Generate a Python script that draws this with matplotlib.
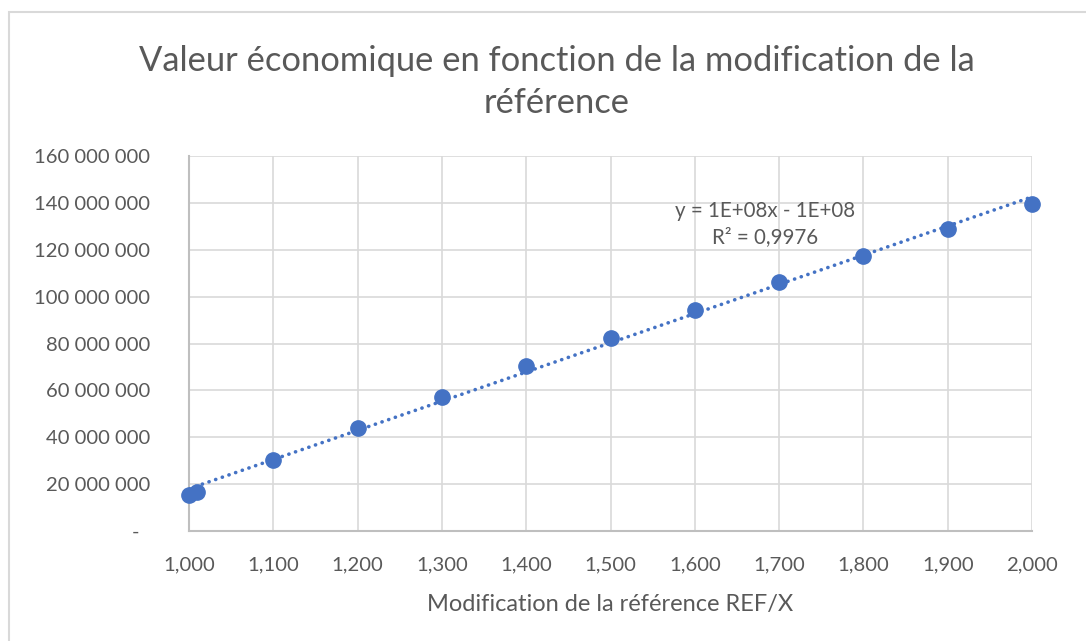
import numpy as np
import matplotlib.pyplot as plt
from matplotlib.ticker import FuncFormatter, MultipleLocator
from matplotlib.patches import Rectangle

# data
ref_x = [1.000, 1.010, 1.100, 1.200, 1.300, 1.400, 1.500, 1.600, 1.700, 1.800, 1.900, 2.000]
valeur = [15.3e6, 16.8e6, 30.2e6, 44.0e6, 57.2e6, 70.3e6, 82.5e6, 94.4e6, 106.2e6, 117.4e6, 128.8e6, 139.5e6]

title = "Valeur économique en fonction de la modification de la\nréférence"
xlabel = "Modification de la référence REF/X"
eq_text = "y = 1E+08x - 1E+08\nR² = 0,9976"

blue = '#4472C4'
grey_txt = '#595959'

plt.rcParams['font.family'] = ['Lato', 'DejaVu Sans']

def y_fmt(v, pos):
    if v == 0:
        return "-  "
    return f"{int(round(v)):,}".replace(",", " ")

def x_fmt(v, pos):
    return f"{v:.3f}".replace(".", ",")

def main():
    fig = plt.figure(figsize=(10.86, 6.41), dpi=100)
    fig.patches.append(Rectangle((9 / 1086, -0.1), 1.2, 1 - 12 / 641 + 0.1,
                                 transform=fig.transFigure, fill=False,
                                 edgecolor='#d9d9d9', linewidth=1.5))
    ax = fig.add_axes([189 / 1086, 1 - 531 / 641, (1032 - 189) / 1086, (531 - 156) / 641])

    x = np.array(ref_x)
    y = np.array(valeur)
    coef = np.polyfit(x, y, 1)
    xt = np.array([x.min(), x.max()])
    ax.plot(xt, np.polyval(coef, xt), color=blue, linewidth=2.6,
            linestyle=(0, (0.05, 1.9)), dash_capstyle='round', zorder=3)
    ax.plot(x, y, 'o', color=blue, markersize=11, zorder=4, clip_on=False)

    ax.set_xlim(1.0, 2.0)
    ax.set_ylim(0, 160e6)
    ax.xaxis.set_major_locator(MultipleLocator(0.1))
    ax.yaxis.set_major_locator(MultipleLocator(20e6))
    ax.xaxis.set_major_formatter(FuncFormatter(x_fmt))
    ax.yaxis.set_major_formatter(FuncFormatter(y_fmt))
    ax.grid(True, color='#d9d9d9', linewidth=1.2)
    ax.set_axisbelow(True)
    for s in ['top', 'right']:
        ax.spines[s].set_visible(False)
    for s in ['left', 'bottom']:
        ax.spines[s].set_color('#bfbfbf')
        ax.spines[s].set_linewidth(1.5)
    ax.tick_params(length=0, labelsize=14.6, labelcolor=grey_txt)
    ax.tick_params(axis='x', pad=18)
    ax.tick_params(axis='y', pad=28)

    ax.set_xlabel(xlabel, fontsize=17, color=grey_txt, labelpad=15)
    fig.text(0.513, 1 - 82 / 641, title, ha='center', va='center',
             fontsize=24.8, color=grey_txt, linespacing=1.35)
    ax.text(1.683, 131e6, eq_text, ha='center', va='center',
            fontsize=14.8, color=grey_txt, linespacing=1.4)

    fig.savefig('out.png', dpi=100)


if __name__ == '__main__':
    main()
